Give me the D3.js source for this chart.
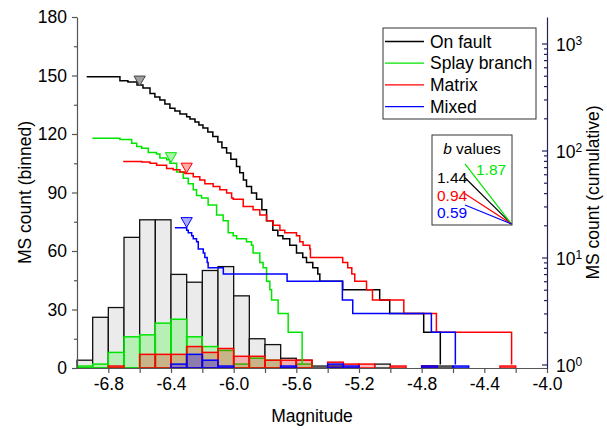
<!DOCTYPE html>
<html>
<head>
<meta charset="utf-8">
<script src="https://cdn.jsdelivr.net/npm/d3@7"></script>
<style>
  body { margin: 0; background: #fff; }
  svg { font-family: "Liberation Sans", Arial, sans-serif; }
</style>
</head>
<body>
<div id="chart"></div>
<script>
// Histogram bins (lower edge, width 0.1)
const binEdges = [-7.0, -6.9, -6.8, -6.7, -6.6, -6.5, -6.4, -6.3, -6.2, -6.1, -6.0, -5.9, -5.8, -5.7,
  -5.6, -5.5, -5.4, -5.3, -5.2, -5.1, -5.0, -4.9, -4.8, -4.7, -4.6, -4.5, -4.4, -4.3];
const binWidth = 0.1;
const onFaultBinned = [4, 26, 31, 67, 76, 76, 48, 44, 50, 52, 37, 15, 12, 5, 4, 1, 1, 0, 0, 2, 0, 0, 1, 1, 0, 0, 0, 0];
const splayBinned   = [1, 2, 8, 16, 17, 23, 25, 16, 11, 9, 2, 5, 4, 0, 2, 0, 0, 0, 0, 0, 0, 0, 0, 0, 0, 0, 0, 0];
const matrixBinned  = [0, 0, 1, 0, 7, 7, 7, 11, 8, 10, 6, 6, 4, 4, 4, 0, 3, 2, 2, 0, 1, 0, 1, 0, 0, 0, 0, 1];
const mixedBinned   = [0, 0, 0, 0, 0, 0, 2, 7, 4, 1, 0, 0, 0, 1, 0, 0, 2, 1, 0, 0, 0, 0, 1, 0, 1, 0, 0, 0];

// Cumulative counts [magnitude, N(>=M)]
const onFaultCum = [[-6.938, 490], [-6.726, 449], [-6.675, 437], [-6.617, 410], [-6.579, 384], [-6.534, 342],
  [-6.503, 316], [-6.471, 297], [-6.439, 272], [-6.407, 248], [-6.375, 234], [-6.343, 219], [-6.300, 207],
  [-6.279, 197], [-6.247, 185], [-6.222, 173], [-6.196, 162], [-6.165, 149], [-6.133, 135], [-6.101, 120],
  [-6.075, 106], [-6.045, 95], [-6.018, 83], [-5.982, 71], [-5.961, 62], [-5.938, 53], [-5.918, 46],
  [-5.886, 40], [-5.854, 35], [-5.820, 28], [-5.790, 22], [-5.750, 18], [-5.718, 16], [-5.686, 15],
  [-5.642, 13], [-5.599, 11], [-5.559, 10], [-5.535, 9], [-5.495, 8], [-5.463, 7], [-5.450, 6],
  [-5.304, 5], [-5.068, 4], [-5.004, 3], [-4.787, 2], [-4.681, 1]];
const splayCum = [[-6.902, 130], [-6.726, 127], [-6.651, 117], [-6.619, 109], [-6.587, 105], [-6.545, 96],
  [-6.492, 93], [-6.471, 85], [-6.428, 82], [-6.407, 76], [-6.364, 63], [-6.322, 55], [-6.290, 49],
  [-6.258, 43], [-6.237, 38], [-6.205, 36], [-6.163, 31], [-6.109, 25], [-6.067, 22], [-6.035, 17],
  [-6.003, 16], [-5.981, 15], [-5.918, 14], [-5.886, 13], [-5.876, 11], [-5.833, 9], [-5.812, 8],
  [-5.790, 6], [-5.769, 5], [-5.758, 4], [-5.716, 3], [-5.652, 2], [-5.563, 1]];
const matrixCum = [[-6.705, 79], [-6.587, 78], [-6.534, 76], [-6.492, 73], [-6.428, 68], [-6.386, 66],
  [-6.343, 63], [-6.311, 61], [-6.258, 57], [-6.216, 53], [-6.184, 49], [-6.131, 46], [-6.088, 43],
  [-6.045, 40], [-6.013, 36], [-6.003, 35], [-5.939, 30], [-5.876, 28], [-5.833, 25], [-5.790, 22],
  [-5.748, 20], [-5.705, 18], [-5.674, 17], [-5.599, 16], [-5.578, 14], [-5.557, 13], [-5.514, 12],
  [-5.510, 10], [-5.304, 9], [-5.272, 8], [-5.246, 7], [-5.227, 6], [-5.152, 5], [-5.114, 4],
  [-4.914, 3], [-4.706, 2], [-4.226, 1]];
const mixedCum = [[-6.375, 19], [-6.300, 18], [-6.290, 17], [-6.268, 16], [-6.258, 15], [-6.237, 14],
  [-6.226, 12], [-6.194, 11], [-6.184, 10], [-6.169, 9], [-6.163, 8], [-6.066, 7], [-5.659, 6],
  [-5.306, 4], [-5.240, 3], [-4.738, 2], [-4.585, 1]];

// Completeness markers [magnitude, cumulative count]
const mcMarkers = [[-6.60, 463], [-6.40, 89], [-6.30, 71], [-6.30, 22]];

const seriesNames = ['On fault', 'Splay branch', 'Matrix', 'Mixed'];
const bValues = [1.44, 1.87, 0.94, 0.59];

const xTicks = [-6.8, -6.4, -6.0, -5.6, -5.2, -4.8, -4.4, -4.0];
const xMinorTicks = [-6.6, -6.2, -5.8, -5.4, -5.0, -4.6, -4.2];
const yTicks = [0, 30, 60, 90, 120, 150, 180];
const yMinorTicks = [15, 45, 75, 105, 135, 165];
const rTicks = [1, 10, 100, 1000];
const rExponents = ['0', '1', '2', '3'];
const rMinorTicks = [2, 3, 4, 5, 6, 7, 8, 9, 20, 30, 40, 50, 60, 70, 80, 90, 200, 300, 400, 500, 600, 700, 800, 900];

const lineColors = ['#000000', '#00e600', '#ff0000', '#0000ff'];
const markerFills = ['#a0a0a0', '#aaf5aa', '#ffaaaa', '#aaaaff'];

const w = 607, h = 430;
const m = { left: 77, right: 60, top: 17, bottom: 62 };
const fontSize = 17.5;

const svg = d3.select('#chart').append('svg')
  .attr('width', w)
  .attr('height', h);

const x = d3.scaleLinear().domain([-7.0, -4.0]).range([m.left, w - m.right]);
const yL = d3.scaleLinear().domain([0, 180]).range([h - m.bottom, m.top]);
const yR = d3.scaleLog().domain([0.927, 1770]).range([h - m.bottom, m.top]);

// Histograms
function drawBins(counts, stroke, fill, opacity, sw) {
  const data = binEdges.map((e, i) => [e, counts[i]]).filter(d => d[1] > 0);
  svg.append('g').selectAll('rect')
    .data(data)
    .enter()
    .append('rect')
    .attr('x', d => x(d[0]))
    .attr('y', d => yL(d[1]))
    .attr('width', d => x(d[0] + binWidth) - x(d[0]))
    .attr('height', d => yL(0) - yL(d[1]))
    .attr('fill', fill)
    .attr('fill-opacity', opacity)
    .attr('stroke', stroke)
    .attr('stroke-width', sw);
}
drawBins(onFaultBinned, '#111', '#ebebeb', 1, 1.3);
drawBins(splayBinned, '#00e600', '#00ff00', 0.22, 1.5);
drawBins(matrixBinned, '#ff0000', '#ff0000', 0.25, 1.5);
drawBins(mixedBinned, '#0000ff', '#0000ff', 0.3, 1.5);

// Cumulative curves
const cumLine = d3.line()
  .x(d => x(d[0]))
  .y(d => yR(d[1]))
  .curve(d3.curveStepAfter);

[onFaultCum, splayCum, matrixCum, mixedCum].forEach((s, i) => {
  svg.append('path')
    .datum(s)
    .attr('d', cumLine)
    .attr('fill', 'none')
    .attr('stroke', lineColors[i])
    .attr('stroke-width', 1.5);
});

// Mc markers (down triangles)
const tri = d3.symbol().type(d3.symbolTriangle).size(55);
svg.append('g').selectAll('path')
  .data(mcMarkers)
  .enter()
  .append('path')
  .attr('d', tri)
  .attr('transform', d => `translate(${x(d[0])},${yR(d[1])}) rotate(180)`)
  .attr('fill', (d, i) => markerFills[i])
  .attr('stroke', (d, i) => i === 0 ? '#444' : lineColors[i])
  .attr('stroke-width', 1);

// Axes
const xAxis = svg.append('g')
  .attr('transform', `translate(0,${h - m.bottom})`)
  .attr('color', '#555')
  .call(d3.axisBottom(x)
    .tickValues(xTicks.concat(xMinorTicks))
    .tickSizeInner(5).tickSizeOuter(0).tickPadding(5)
    .tickFormat(d => xTicks.includes(d) ? d.toFixed(1) : ''));

const leftAxis = svg.append('g')
  .attr('transform', `translate(${m.left},0)`)
  .attr('color', '#555')
  .call(d3.axisLeft(yL)
    .tickValues(yTicks.concat(yMinorTicks))
    .tickSizeInner(5).tickSizeOuter(0).tickPadding(5)
    .tickFormat(d => yTicks.includes(d) ? d : ''));
leftAxis.selectAll('.tick line').filter(d => yMinorTicks.includes(d)).attr('x2', -3);

const rightAxis = svg.append('g')
  .attr('transform', `translate(${w - m.right},0)`)
  .attr('color', '#23235a')
  .call(d3.axisRight(yR)
    .tickValues(rTicks.concat(rMinorTicks))
    .tickSizeInner(-5).tickSizeOuter(0)
    .tickFormat(''));
rightAxis.selectAll('.tick line').filter(d => rMinorTicks.includes(d)).attr('x2', -3);

[xAxis, leftAxis].forEach(g => {
  g.selectAll('text').attr('fill', '#000').attr('font-size', fontSize).attr('font-family', null);
});
xAxis.selectAll('.domain, .tick line').attr('stroke-width', 1.2);
leftAxis.selectAll('.domain, .tick line').attr('stroke-width', 1.2);
rightAxis.selectAll('.domain, .tick line').attr('stroke-width', 1.2);

// Right axis labels 10^n
const rLab = svg.append('g').selectAll('text')
  .data(rTicks)
  .enter()
  .append('text')
  .attr('x', w - m.right + 9)
  .attr('y', d => yR(d))
  .attr('dy', '0.45em')
  .attr('font-size', fontSize)
  .text('10');
rLab.append('tspan')
  .attr('dy', '-0.55em')
  .attr('font-size', 12)
  .text((d, i) => rExponents[i]);

// Axis titles
svg.append('text')
  .attr('x', (m.left + w - m.right) / 2)
  .attr('y', h - 8)
  .attr('text-anchor', 'middle')
  .attr('font-size', fontSize)
  .text('Magnitude');

svg.append('text')
  .attr('transform', 'rotate(-90)')
  .attr('x', -(m.top + h - m.bottom) / 2)
  .attr('y', 31)
  .attr('text-anchor', 'middle')
  .attr('font-size', fontSize)
  .text('MS count (binned)');

svg.append('text')
  .attr('transform', 'rotate(-90)')
  .attr('x', -(m.top + h - m.bottom) / 2)
  .attr('y', 599)
  .attr('text-anchor', 'middle')
  .attr('font-size', fontSize)
  .text('MS count (cumulative)');

// Legend
const legend = svg.append('g').attr('transform', 'translate(383,28)');
legend.append('rect')
  .attr('width', 153).attr('height', 91)
  .attr('fill', '#fff').attr('stroke', '#333').attr('stroke-width', 1);
seriesNames.forEach((name, i) => {
  const yy = 13.5 + i * 21.7;
  legend.append('line')
    .attr('x1', 2).attr('x2', 41).attr('y1', yy).attr('y2', yy)
    .attr('stroke', lineColors[i]).attr('stroke-width', 1.3);
  legend.append('text')
    .attr('x', 47).attr('y', yy).attr('dy', '0.35em')
    .attr('font-size', fontSize)
    .text(name);
});

// b-values inset
const bx0 = 432, by0 = 135, bx1 = 512, by1 = 225;
const inset = svg.append('g');
inset.append('rect')
  .attr('x', bx0).attr('y', by0).attr('width', bx1 - bx0).attr('height', by1 - by0)
  .attr('fill', '#fff').attr('stroke', '#333').attr('stroke-width', 1);
const title = inset.append('text')
  .attr('x', (bx0 + bx1) / 2).attr('y', by0 + 14).attr('dy', '0.35em')
  .attr('text-anchor', 'middle').attr('font-size', 15.5);
title.append('tspan').attr('font-style', 'italic').text('b');
title.append('tspan').text(' values');

// slope of a b-value in pixel space: log10 N per magnitude
const pxPerMag = x(-6) - x(-7);
const pxPerDecade = yR(1) - yR(10);
const lineStartX = 465;
bValues.forEach((b, i) => {
  const slope = b * pxPerDecade / pxPerMag;
  inset.append('line')
    .attr('x1', lineStartX).attr('y1', by1 - 1 - slope * (bx1 - lineStartX))
    .attr('x2', bx1 - 0.5).attr('y2', by1 - 1)
    .attr('stroke', lineColors[i]).attr('stroke-width', 1.2);
});
const bLabelPos = [[437, 178], [476, 170], [437, 196], [437, 213]];
bValues.forEach((b, i) => {
  inset.append('text')
    .attr('x', bLabelPos[i][0]).attr('y', bLabelPos[i][1]).attr('dy', '0.35em')
    .attr('font-size', 15.5)
    .attr('fill', lineColors[i])
    .text(b.toFixed(2));
});
</script>
</body>
</html>
